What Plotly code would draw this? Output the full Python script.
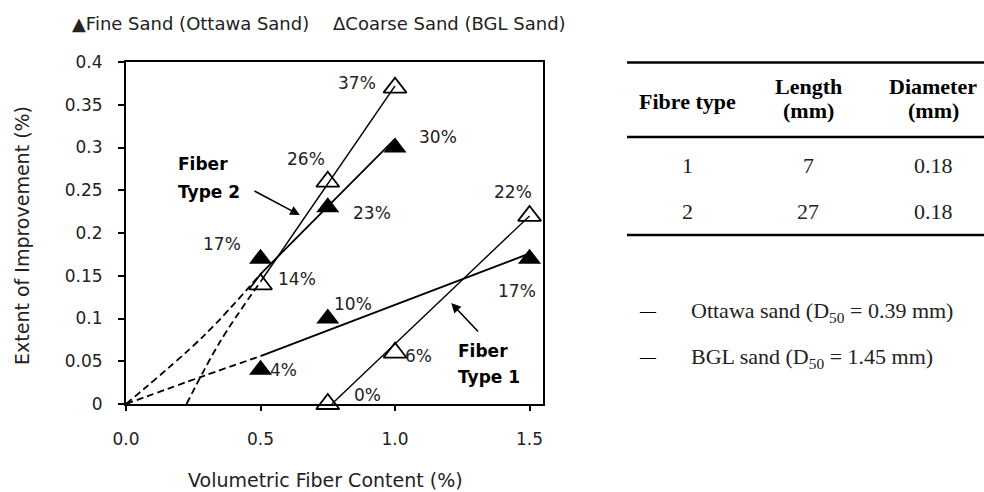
import plotly.graph_objects as go

# ---------------- data ----------------
# Fiber type 2
t2_x = [0.5, 0.75, 1.0]
t2_fine = [0.17, 0.23, 0.30]
t2_coarse = [0.14, 0.26, 0.37]
# Fiber type 1
t1_fine_x = [0.5, 0.75, 1.5]
t1_fine = [0.04, 0.10, 0.17]
t1_coarse_x = [0.75, 1.0, 1.5]
t1_coarse = [0.0, 0.06, 0.22]

# trend lines (solid) and extrapolations (dashed)
tr_t2_fine_x, tr_t2_fine_y = [0.5, 1.0], [0.152, 0.31]
tr_t2_coarse_x, tr_t2_coarse_y = [0.5, 1.0], [0.143, 0.372]
tr_t1_fine_x, tr_t1_fine_y = [0.5, 1.5], [0.056, 0.176]
tr_t1_coarse_x, tr_t1_coarse_y = [0.765, 1.5], [0.0, 0.22]
ex_t2_fine_x, ex_t2_fine_y = [0.0, 0.29, 0.5], [0.0, 0.08, 0.152]
ex_t2_coarse_x, ex_t2_coarse_y = [0.225, 0.35, 0.5], [0.0, 0.073, 0.143]
ex_t1_fine_x, ex_t1_fine_y = [0.0, 0.29, 0.5], [0.0, 0.033, 0.056]

x_ticks = [0.0, 0.5, 1.0, 1.5]

# table
table_header = ["Fibre type", "Length<br>(mm)", "Diameter<br>(mm)"]
fibre_types = ["1", "2"]
fibre_lengths = ["7", "27"]
fibre_diams = ["0.18", "0.18"]
sand_names = ["Ottawa sand", "BGL sand"]
sand_d50 = ["0.39", "1.45"]

legend_fine = "Fine Sand (Ottawa Sand)"
legend_coarse = "Coarse Sand (BGL Sand)"

# ---------------- layout constants ----------------
W, H = 984, 492
L, R, T, B = 126, 441, 62, 88
PW, PH = W - L - R, H - T - B


def px(x):
    return (x - L) / PW


def py(y):
    return (H - B - y) / PH


SANS = "DejaVu Sans"
SERIF = "Liberation Serif"
TXT = "#222222"

fig = go.Figure()

dashed = dict(color="black", width=1.8, dash="7px,4px")

for xs, ys, ln in [
    (tr_t2_fine_x, tr_t2_fine_y, dict(color="black", width=1.8)),
    (tr_t2_coarse_x, tr_t2_coarse_y, dict(color="black", width=1.5)),
    (tr_t1_fine_x, tr_t1_fine_y, dict(color="black", width=2.0)),
    (tr_t1_coarse_x, tr_t1_coarse_y, dict(color="black", width=1.4)),
]:
    fig.add_trace(go.Scatter(x=xs, y=ys, mode="lines", line=ln,
                             showlegend=False, hoverinfo="skip", cliponaxis=False))

for xs, ys in [(ex_t2_fine_x, ex_t2_fine_y), (ex_t2_coarse_x, ex_t2_coarse_y),
               (ex_t1_fine_x, ex_t1_fine_y)]:
    fig.add_trace(go.Scatter(x=xs, y=ys, mode="lines", line_shape="spline",
                             line=dashed, showlegend=False, hoverinfo="skip",
                             cliponaxis=False))

fine_x = t2_x + t1_fine_x
fine_y = t2_fine + t1_fine
coarse_x = t2_x + t1_coarse_x
coarse_y = t2_coarse + t1_coarse

fig.add_trace(go.Scatter(x=fine_x, y=fine_y, mode="markers", name=legend_fine,
                         marker=dict(symbol="triangle-up", size=20, color="black"),
                         showlegend=False, cliponaxis=False))
fig.add_trace(go.Scatter(x=coarse_x, y=coarse_y, mode="markers", name=legend_coarse,
                         marker=dict(symbol="triangle-up-open", size=20, color="black",
                                     line=dict(width=1.8, color="black")),
                         showlegend=False, cliponaxis=False))

# percentage labels: offsets in pixels from each point
fine_shift = [(-39, 15), (44, -6), (43, 11), (23, 0), (25, 15), (-13, -32)]
coarse_shift = [(36, 5), (-22, 23), (-38, 5), (40, 9), (23, -3), (-17, 24)]
ann = []
for xs, ys, shifts in [(fine_x, fine_y, fine_shift), (coarse_x, coarse_y, coarse_shift)]:
    for x, y, (dx, dy) in zip(xs, ys, shifts):
        ann.append(dict(x=x, y=y, xref="x", yref="y", text=f"{round(y * 100)}%",
                        showarrow=False, xshift=dx, yshift=dy,
                        font=dict(family=SANS, size=17, color=TXT)))

# fiber type labels and arrows
for txt, xl, y1, y2 in [("Type 2", 0.186, 0.281, 0.248), ("Type 1", 1.228, 0.0624, 0.032)]:
    ann.append(dict(x=xl, y=y1, xref="x", yref="y", text="<b>Fiber</b>", showarrow=False,
                    xanchor="left", yanchor="middle",
                    font=dict(family=SANS, size=17, color="black")))
    ann.append(dict(x=xl, y=y2, xref="x", yref="y", text=f"<b>{txt}</b>", showarrow=False,
                    xanchor="left", yanchor="middle",
                    font=dict(family=SANS, size=17, color="black")))
for (x0, y0, x1, y1) in [(0.472, 0.25, 0.646, 0.221), (1.314, 0.083, 1.209, 0.118)]:
    ann.append(dict(x=x1, y=y1, ax=x0, ay=y0, xref="x", yref="y", axref="x", ayref="y",
                    text="", showarrow=True, arrowhead=2, arrowsize=1.2, arrowwidth=1.6,
                    arrowcolor="black"))

# chart legend (text with glyphs)
ann.append(dict(x=px(70), y=py(23), xref="paper", yref="paper", xanchor="left",
                yanchor="middle", text="\u25B2" + legend_fine, showarrow=False,
                font=dict(family=SANS, size=18, color=TXT)))
ann.append(dict(x=px(331), y=py(23), xref="paper", yref="paper", xanchor="left",
                yanchor="middle", text="\u0394" + legend_coarse, showarrow=False,
                font=dict(family=SANS, size=18, color=TXT)))

# axis titles
ann.append(dict(x=px(325), y=py(480), xref="paper", yref="paper", xanchor="center",
                yanchor="middle", text="Volumetric Fiber Content (%)", showarrow=False,
                font=dict(family=SANS, size=19, color=TXT)))
ann.append(dict(x=px(22), y=py(236), xref="paper", yref="paper", xanchor="center",
                yanchor="middle", text="Extent of Improvement (%)", showarrow=False,
                textangle=-90, font=dict(family=SANS, size=19, color=TXT)))

# table
col_x = [687, 808, 933]
for cx, h in zip(col_x, table_header):
    parts = h.split("<br>")
    if len(parts) == 1:
        ann.append(dict(x=px(cx), y=py(101.5), xref="paper", yref="paper", text=f"<b>{parts[0]}</b>",
                        showarrow=False, xanchor="center", yanchor="middle",
                        font=dict(family=SERIF, size=22, color="black")))
    else:
        for yy, p in zip([86.5, 110], parts):
            ann.append(dict(x=px(cx), y=py(yy), xref="paper", yref="paper", text=f"<b>{p}</b>",
                            showarrow=False, xanchor="center", yanchor="middle",
                            font=dict(family=SERIF, size=22, color="black")))
for ry, row in zip([165, 211.5], zip(fibre_types, fibre_lengths, fibre_diams)):
    for cx, v in zip(col_x, row):
        ann.append(dict(x=px(cx), y=py(ry), xref="paper", yref="paper", text=v,
                        showarrow=False, xanchor="center", yanchor="middle",
                        font=dict(family=SERIF, size=22, color="#222222")))

shapes = []
for ly in [62.5, 137, 235]:
    shapes.append(dict(type="line", xref="paper", yref="paper", x0=px(627), x1=px(984),
                       y0=py(ly), y1=py(ly), line=dict(color="black", width=2.5)))

for ry, nm, d in zip([312, 358], sand_names, sand_d50):
    ann.append(dict(x=px(648), y=py(ry - 2), xref="paper", yref="paper", text="\u2014",
                    showarrow=False, xanchor="center", yanchor="middle",
                    font=dict(family=SERIF, size=16, color="black")))
    ann.append(dict(x=px(689), y=py(ry), xref="paper", yref="paper",
                    text=f"{nm} (D<sub>50</sub> = {d} mm)", showarrow=False,
                    xanchor="left", yanchor="middle",
                    font=dict(family=SERIF, size=22, color="#222222")))

fig.update_layout(
    width=W, height=H,
    margin=dict(l=L, r=R, t=T, b=B, pad=0),
    paper_bgcolor="white", plot_bgcolor="white",
    showlegend=False,
    annotations=ann, shapes=shapes,
    xaxis=dict(range=[0, 1.55], tickvals=x_ticks, tickformat=".1f",
               showgrid=False, zeroline=False, showline=True, linecolor="black",
               linewidth=2, mirror=True, ticks="outside", ticklen=5, tickwidth=1.5,
               tickcolor="black", ticklabelstandoff=14,
               tickfont=dict(family=SANS, size=17, color=TXT)),
    yaxis=dict(range=[0, 0.4], dtick=0.05, tick0=0,
               showgrid=False, zeroline=False, showline=True, linecolor="black",
               linewidth=2, mirror=True, ticks="outside", ticklen=6, tickwidth=1.5,
               tickcolor="black", ticklabelstandoff=12,
               tickfont=dict(family=SANS, size=17, color=TXT)),
)

fig.write_html("out.html")
